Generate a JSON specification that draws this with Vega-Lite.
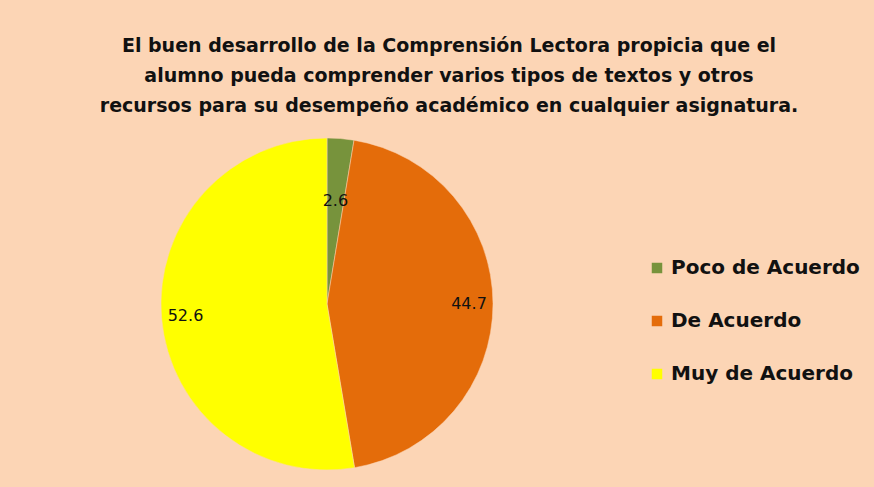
{
  "$schema": "https://vega.github.io/schema/vega-lite/v6.json",
  "width": 354,
  "height": 324,
  "autosize": "none",
  "padding": {"left": 150, "top": 142, "right": 370, "bottom": 21},
  "background": "#FCD5B5",
  "title": {
    "text": ["El buen desarrollo de la  Comprensión Lectora propicia que el", "alumno pueda comprender varios tipos de textos y otros", "recursos para su desempeño académico en cualquier asignatura."],
    "anchor": "middle",
    "dx": 122,
    "offset": 21,
    "font": "DejaVu Sans",
    "fontSize": 19,
    "fontWeight": "bold",
    "color": "#111111",
    "lineHeight": 30
  },
  "data": {
    "values": [
      {"categoria": "Poco de Acuerdo", "valor": 2.6, "orden": 1},
      {"categoria": "De Acuerdo", "valor": 44.7, "orden": 2},
      {"categoria": "Muy de Acuerdo", "valor": 52.6, "orden": 3}
    ]
  },
  "encoding": {
    "theta": {"field": "valor", "type": "quantitative", "stack": true},
    "order": {"field": "orden", "type": "quantitative"},
    "color": {
      "field": "categoria",
      "type": "nominal",
      "sort": ["Poco de Acuerdo", "De Acuerdo", "Muy de Acuerdo"],
      "scale": {"domain": ["Poco de Acuerdo", "De Acuerdo", "Muy de Acuerdo"], "range": ["#77933C", "#E46C0A", "#FFFF00"]},
      "legend": {
        "title": null,
        "orient": "none",
        "legendX": 497,
        "legendY": 116,
        "symbolType": "square",
        "symbolSize": 110,
        "symbolStrokeWidth": 0,
        "labelFont": "DejaVu Sans",
        "labelFontSize": 20,
        "labelFontWeight": "bold",
        "labelColor": "#111111",
        "labelOffset": 4,
        "rowPadding": 33,
        "labelLimit": 300
      }
    }
  },
  "layer": [
    {
      "mark": {"type": "arc", "outerRadius": 166, "stroke": "#FCD5B5", "strokeWidth": 0.5}
    },
    {
      "mark": {
        "type": "text",
        "radius": {"expr": "datum.valor < 5 ? 103 : 142"},
        "font": "DejaVu Sans",
        "fontSize": 16,
        "color": "#111111"
      },
      "encoding": {
        "text": {"field": "valor", "type": "quantitative", "format": ".1f"},
        "color": {"value": "#111111"}
      }
    }
  ],
  "config": {"view": {"stroke": null}}
}
